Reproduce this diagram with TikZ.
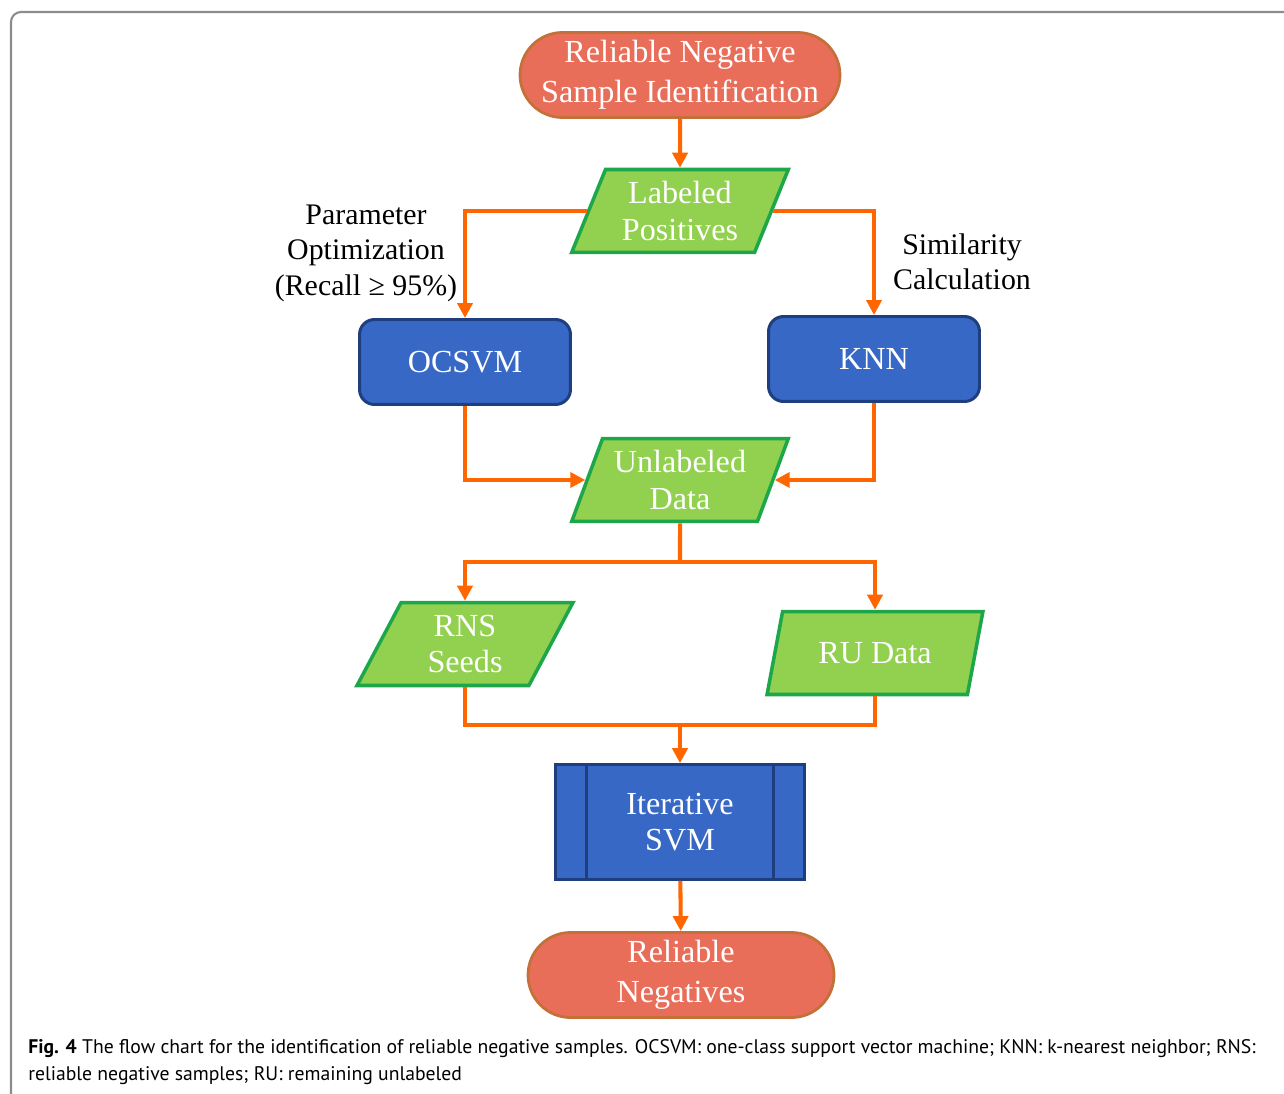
\documentclass[tikz,border=0pt]{standalone}
\usepackage{fontspec}
\setmainfont{Liberation Serif}
\newfontfamily\capfont{PT Sans}
\usetikzlibrary{arrows.meta, shapes.geometric, shapes.misc}
\definecolor{TermFill}{HTML}{E96E5A}
\definecolor{TermLine}{HTML}{C47038}
\definecolor{DataFill}{HTML}{92D050}
\definecolor{DataLine}{HTML}{1EA74A}
\definecolor{ProcFill}{HTML}{3868C6}
\definecolor{ProcLine}{HTML}{1F3E7E}
\definecolor{FlowOrange}{HTML}{FF6600}
\tikzset{
  term/.style={rounded rectangle, draw=TermLine, line width=1.6pt, fill=TermFill,
    text=white, align=center, minimum height=1.7cm, inner sep=0pt,
    font=\fontsize{18.3}{22.7}\selectfont},
  dbox/.style={trapezium, trapezium left angle=66, trapezium right angle=114,
    trapezium stretches=true, draw=DataLine, line width=2pt, fill=DataFill,
    text=white, align=center, minimum width=4.34cm, minimum height=1.66cm,
    inner sep=0pt, font=\fontsize{18.3}{20.8}\selectfont},
  pbox/.style={draw=ProcLine, line width=1.7pt, fill=ProcFill, rounded corners=0.3cm,
    text=white, align=center, minimum width=4.22cm, minimum height=1.7cm,
    inner sep=0pt, font=\fontsize{18.3}{20}\selectfont},
  ibox/.style={draw=ProcLine, line width=1.5pt, fill=ProcFill,
    text=white, align=center, minimum width=4.98cm, minimum height=2.3cm,
    inner sep=0pt, font=\fontsize{18.3}{20.5}\selectfont},
  note/.style={align=center, inner sep=0pt, font=\fontsize{17}{20.2}\selectfont},
  flow/.style={-{Triangle[length=0.3cm, width=0.3cm]}, line width=2.3pt, draw=FlowOrange},
  flowline/.style={line width=2.3pt, draw=FlowOrange},
}

\begin{document}
\begin{tikzpicture}[x=0.02cm, y=-0.02cm]
    \useasboundingbox (0,0) rectangle (1284,1094);
    \draw[gray!110!black, line width=1.2pt, rounded corners=0.2cm] (11,12) rectangle (1320,1130);

    \node[term, minimum width=6.4cm] (start) at (680,75) {Reliable Negative\\Sample Identification};
    \node[dbox] (lp) at (680,211) {Labeled\\Positives};
    \node[pbox] (ocsvm) at (465,362) {OCSVM};
    \node[pbox] (knn) at (874,359) {KNN};
    \node[dbox] (ud) at (680,480) {Unlabeled\\Data};
    \node[dbox] (rns) at (465,644) {RNS\\Seeds};
    \node[dbox] (ru) at (875,653) {RU Data};
    \node[ibox] (svm) at (680,822) {Iterative\\SVM};
    \node[term, minimum width=6.12cm] (end) at (681,975) {Reliable\\Negatives};

    \draw[ProcLine, line width=1.5pt] ([xshift=0.64cm]svm.north west) -- ([xshift=0.64cm]svm.south west);
    \draw[ProcLine, line width=1.5pt] ([xshift=-0.64cm]svm.north east) -- ([xshift=-0.64cm]svm.south east);

    \node[note] (param) at (366,253) {Parameter\\Optimization\\(Recall ≥ 95\%)};
    \node[note] (simil) at (962,262) {Similarity\\Calculation};

    \coordinate (split) at (680,562);
    \coordinate (merge) at (680,725);

    \draw[flow] (start) -- (lp);
    \draw[flow] (lp.west) -| (ocsvm);
    \draw[flow] (lp.east) -| (knn);
    \draw[flow] (ocsvm) |- (ud.west);
    \draw[flow] (knn) |- (ud.east);
    \draw[flowline] (ud.south) -- (split);
    \draw[flow] (split) -| (rns.north);
    \draw[flow] (split) -| (ru.north);
    \draw[flowline] (rns.south) |- (merge);
    \draw[flowline] (ru.south) |- (merge);
    \draw[flow] (merge) -- (svm);
    \draw[flow] (svm) -- (end);

    \node[anchor=north west, align=left, inner sep=0pt, font=\capfont\fontsize{11.2}{15.3}\selectfont] (caption) at (28,1039)
      {\textbf{Fig. 4} The flow chart for the identification of reliable negative samples. OCSVM: one-class support vector machine; KNN: k-nearest neighbor; RNS:\\
       reliable negative samples; RU: remaining unlabeled};
\end{tikzpicture}
\end{document}
